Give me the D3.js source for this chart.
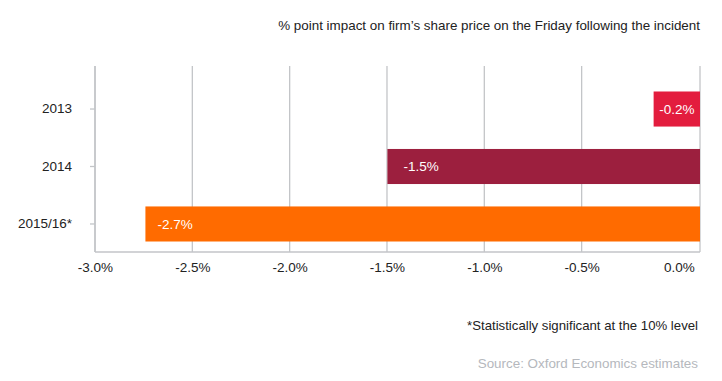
<!DOCTYPE html>
<html><head><meta charset="utf-8">
<script src="https://cdn.jsdelivr.net/npm/d3@7"></script>
<style>
body{margin:0;background:#fff;}
text{font-family:"Liberation Sans",Arial,Helvetica,sans-serif;}
</style></head>
<body><svg id="c" width="722" height="381"></svg>
<script>
const categories = ["2013", "2014", "2015/16*"];
const values = [-0.23, -1.55, -2.75];
const barLabels = ["-0.2%", "-1.5%", "-2.7%"];
const colors = ["#e31d3e", "#9c1f3e", "#ff6b00"];
const tickValues = [-3.0, -2.5, -2.0, -1.5, -1.0, -0.5, 0.0];
const title = "% point impact on firm\u2019s share price on the Friday following the incident";
const footnote = "*Statistically significant at the 10% level";
const source = "Source: Oxford Economics estimates";

const svg = d3.select("#c");
const plotLeft = 95, plotRight = 700, plotTop = 66, plotBottom = 252;
const gridColor = "#c3c5c8";
const fontStack = '"Liberation Sans",Arial,sans-serif';

// axis scale (tick positions) and bar scale (bars measured from the right edge = 0)
const xAxisScale = d3.scaleLinear().domain([-3, 0.108]).range([plotLeft, plotRight]);
const xBar = d3.scaleLinear().domain([-3, 0]).range([plotLeft, plotRight]);
const y = d3.scaleBand().domain(categories).range([80, 253]).paddingInner(0.39).paddingOuter(0.2);

// gridlines
svg.append("g").selectAll("line").data(tickValues.filter(v => v !== 0))
  .join("line")
  .attr("x1", d => xAxisScale(d)).attr("x2", d => xAxisScale(d))
  .attr("y1", plotTop).attr("y2", plotBottom)
  .attr("stroke", gridColor).attr("stroke-width", 1.3);
svg.append("line").attr("x1", plotRight).attr("x2", plotRight).attr("y1", plotTop).attr("y2", plotBottom)
  .attr("stroke", gridColor).attr("stroke-width", 1.3);

// bars
svg.append("g").selectAll("rect").data(values).join("rect")
  .attr("x", d => xBar(d)).attr("width", d => xBar(0) - xBar(d))
  .attr("y", (d, i) => y(categories[i])).attr("height", y.bandwidth())
  .attr("fill", (d, i) => colors[i]);

svg.append("g").selectAll("text").data(values).join("text")
  .attr("x", (d, i) => { const w = xBar(0) - xBar(d); return w < 60 ? xBar(d) + w / 2 : xBar(d) + (i === 1 ? 16 : 12); })
  .attr("text-anchor", d => (xBar(0) - xBar(d)) < 60 ? "middle" : "start")
  .attr("y", (d, i) => y(categories[i]) + y.bandwidth() / 2)
  .attr("dy", "0.35em")
  .attr("fill", "#fff").attr("font-size", 13.5)
  .text((d, i) => barLabels[i]);

// x axis
const xAxis = d3.axisBottom(xAxisScale).tickValues(tickValues).tickSize(0).tickPadding(10)
  .tickFormat(d => d.toFixed(1) + "%");
const gx = svg.append("g").attr("transform", `translate(0,${plotBottom})`).call(xAxis);
gx.select(".domain").attr("stroke", gridColor).attr("stroke-width", 1.5).attr("d", `M${plotLeft},0H${plotRight}`);
gx.selectAll("text").attr("font-size", 13.5).attr("fill", "#222").attr("font-family", fontStack);

// y axis
const yAxis = d3.axisLeft(y).tickSize(5).tickPadding(18);
const gy = svg.append("g").attr("transform", `translate(${plotLeft},0)`).call(yAxis);
gy.select(".domain").attr("stroke", gridColor).attr("stroke-width", 1.5).attr("d", `M0,${plotTop}V${plotBottom}`);
gy.selectAll(".tick line").attr("stroke", gridColor).attr("stroke-width", 1.3);
gy.selectAll("text").attr("font-size", 13.5).attr("fill", "#222").attr("font-family", fontStack);

// texts
svg.append("text").attr("x", 700).attr("y", 30).attr("text-anchor", "end")
  .attr("font-size", 13.4).attr("fill", "#222").text(title);
svg.append("text").attr("x", 698).attr("y", 330).attr("text-anchor", "end")
  .attr("font-size", 13.2).attr("fill", "#222").text(footnote);
svg.append("text").attr("x", 698).attr("y", 368).attr("text-anchor", "end")
  .attr("font-size", 13.4).attr("fill", "#b5b8bd").text(source);
</script></body></html>
